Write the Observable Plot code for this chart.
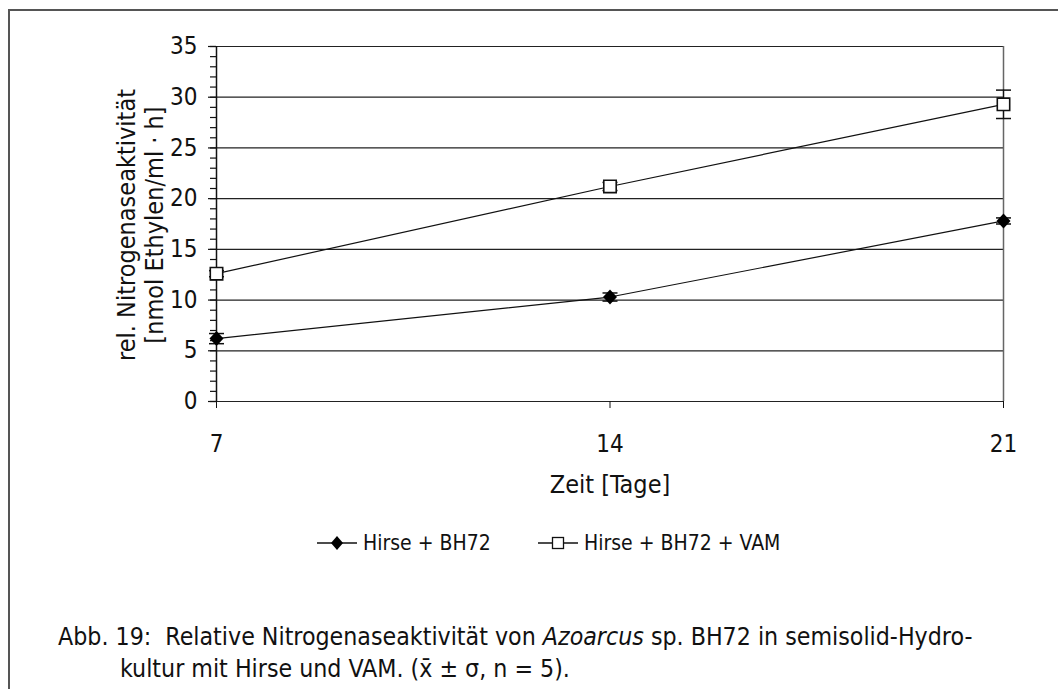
<!DOCTYPE html>
<html>
<head>
<meta charset="utf-8">
<script src="https://cdn.jsdelivr.net/npm/d3@7"></script>
<script src="https://cdn.jsdelivr.net/npm/@observablehq/plot@0.6"></script>
<style>
  html, body { margin: 0; padding: 0; background: #fff; }
  #wrap { position: relative; width: 1058px; height: 689px; overflow: hidden; background: #fff;
          font-family: "DejaVu Sans Condensed", "Liberation Sans", sans-serif; color: #111; }
  #frame { position: absolute; left: 8px; top: 9px; width: 1200px; height: 800px;
           border-top: 2px solid #555; border-left: 2px solid #555; }
  #chart { position: absolute; left: 0; top: 0; }
  .abs { position: absolute; white-space: nowrap; }
  #ylab { left: 141px; top: 225px; transform: translate(-50%, -50%) rotate(-90deg); text-align: center; font-size: 25px; line-height: 28px; }
  #xlab { left: 610px; top: 484px; transform: translate(-50%, -50%); font-size: 25px; }
  .leg { top: 543px; transform: translateY(-50%); font-size: 21px; display: flex; align-items: center; }
  .leg svg { margin-right: 6px; }
  #cap { left: 58px; top: 621px; font-size: 24.7px; line-height: 32px; }
</style>
</head>
<body>
<div id="wrap">
  <div id="frame"></div>
  <div id="chart"></div>
  <div class="abs" id="ylab">rel. Nitrogenaseaktivität<br>[nmol Ethylen/ml · h]</div>
  <div class="abs" id="xlab">Zeit [Tage]</div>
  <div class="abs leg" id="leg1" style="left:317px"></div>
  <div class="abs leg" id="leg2" style="left:538px"></div>
  <div class="abs" id="cap">Abb. 19:&nbsp; Relative Nitrogenaseaktivität von <i>Azoarcus</i> sp. BH72 in semisolid-Hydro-<br><span style="padding-left:62px">kultur mit Hirse und VAM. (x̄ ± σ, n = 5).</span></div>
</div>
<script>
// ---- data ----
const days = [7, 14, 21];
const seriesNames = ["Hirse + BH72", "Hirse + BH72 + VAM"];
const bh72Mean = [6.2, 10.3, 17.8];
const bh72Err  = [0.5, 0.4, 0.3];
const vamMean  = [12.6, 21.2, 29.3];
const vamErr   = [0.3, 0.4, 1.4];
const yTicks = [0, 5, 10, 15, 20, 25, 30, 35];

const rows = [];
days.forEach((d, i) => {
  rows.push({day: d, value: bh72Mean[i], err: bh72Err[i], series: seriesNames[0]});
  rows.push({day: d, value: vamMean[i], err: vamErr[i], series: seriesNames[1]});
});
const bh = rows.filter(r => r.series === seriesNames[0]);
const vam = rows.filter(r => r.series === seriesNames[1]);

const capSymbol = { draw(ctx) { ctx.moveTo(-7.5, 0); ctx.lineTo(7.5, 0); } };
const diamondSymbol = { draw(ctx) { ctx.moveTo(0, -7.5); ctx.lineTo(7, 0); ctx.lineTo(0, 7.5); ctx.lineTo(-7, 0); ctx.closePath(); } };

const font = "'DejaVu Sans Condensed', 'Liberation Sans', sans-serif";

const chart = Plot.plot({
  width: 1058,
  height: 500,
  marginLeft: 216,
  marginRight: 55,
  marginTop: 46,
  marginBottom: 99,
  style: { fontFamily: font, fontSize: "24px", color: "#111", background: "transparent", overflow: "visible" },
  x: { domain: [7, 21], label: null },
  y: { domain: [0, 35], label: null },
  marks: [
    Plot.ruleY(yTicks, { stroke: "#222", strokeWidth: 1.2 }),
    Plot.ruleX([21], { stroke: "#666", strokeWidth: 1.5 }),
    Plot.axisY(d3.range(0, 36, 1), { tickSize: 6, tickFormat: () => "", stroke: "#111", strokeWidth: 1.2 }),
    Plot.axisY(yTicks, { tickSize: 8, tickPadding: 11, fontSize: 24, stroke: "#111", strokeWidth: 1.2 }),
    Plot.axisX(days, { tickSize: 7, tickPadding: 26, fontSize: 24, stroke: "#111" }),
    Plot.ruleX([7], { stroke: "#111", strokeWidth: 1.5 }),
    Plot.line(rows, { x: "day", y: "value", z: "series", stroke: "#111", strokeWidth: 1.2 }),
    Plot.ruleX(rows, { x: "day", y1: d => d.value - d.err, y2: d => d.value + d.err, stroke: "#111", strokeWidth: 1.2 }),
    Plot.dot(rows, { x: "day", y: d => d.value - d.err, symbol: capSymbol, stroke: "#111", strokeWidth: 1.5 }),
    Plot.dot(rows, { x: "day", y: d => d.value + d.err, symbol: capSymbol, stroke: "#111", strokeWidth: 1.5 }),
    Plot.dot(bh, { x: "day", y: "value", symbol: diamondSymbol, fill: "#000", stroke: "none" }),
    Plot.dot(vam, { x: "day", y: "value", symbol: "square", r: 7, fill: "#fff", stroke: "#111", strokeWidth: 1.6 })
  ]
});
document.getElementById("chart").appendChild(chart);

function legendSvg(kind) {
  const ns = "http://www.w3.org/2000/svg";
  const s = document.createElementNS(ns, "svg");
  s.setAttribute("width", "40"); s.setAttribute("height", "20");
  const l = document.createElementNS(ns, "line");
  l.setAttribute("x1", 0); l.setAttribute("x2", 40); l.setAttribute("y1", 10); l.setAttribute("y2", 10);
  l.setAttribute("stroke", "#111"); l.setAttribute("stroke-width", "1.3");
  s.appendChild(l);
  if (kind === 0) {
    const p = document.createElementNS(ns, "path");
    p.setAttribute("d", "M20,3L26,10L20,17L14,10Z"); p.setAttribute("fill", "#000");
    s.appendChild(p);
  } else {
    const r = document.createElementNS(ns, "rect");
    r.setAttribute("x", 14.5); r.setAttribute("y", 4.5); r.setAttribute("width", 11); r.setAttribute("height", 11);
    r.setAttribute("fill", "#fff"); r.setAttribute("stroke", "#111"); r.setAttribute("stroke-width", "1.3");
    s.appendChild(r);
  }
  return s;
}
[0, 1].forEach(i => {
  const el = document.getElementById("leg" + (i + 1));
  el.appendChild(legendSvg(i));
  const t = document.createElement("span"); t.textContent = seriesNames[i];
  el.appendChild(t);
});
</script>
</body>
</html>
